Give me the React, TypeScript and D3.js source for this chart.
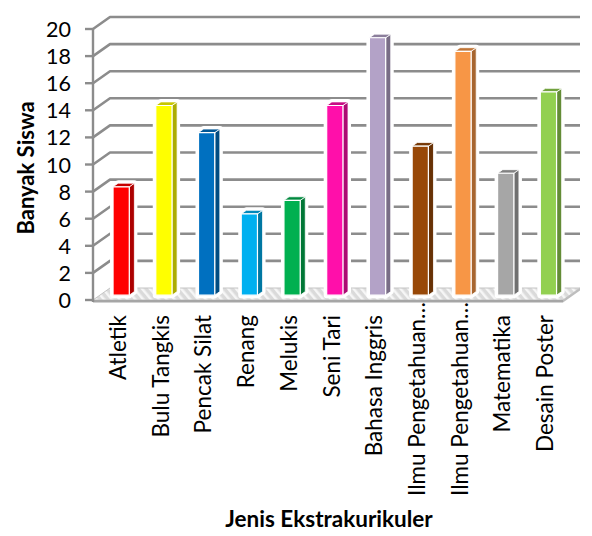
import React from "react";
import * as d3 from "d3";

const categories = [
  "Atletik",
  "Bulu Tangkis",
  "Pencak Silat",
  "Renang",
  "Melukis",
  "Seni Tari",
  "Bahasa Inggris",
  "Ilmu Pengetahuan…",
  "Ilmu Pengetahuan…",
  "Matematika",
  "Desain Poster",
];
const values = [8, 14, 12, 6, 7, 14, 19, 11, 18, 9, 15];
const colors = [
  "#FF0000",
  "#FFFF00",
  "#0070C0",
  "#00B0F0",
  "#00B050",
  "#FF0FAA",
  "#B3A2C7",
  "#984807",
  "#F79646",
  "#A6A6A6",
  "#92D050",
];
const yTicks = [0, 2, 4, 6, 8, 10, 12, 14, 16, 18, 20];
const yTitle = "Banyak Siswa";
const xTitle = "Jenis Ekstrakurikuler";

const W = 592;
const H = 536;
const X0 = 93;
const X1 = 563;
const DX = 17;
const DY = -12;
const T1 = 0.4;
const T2 = 0.7;
const FONT = "Lato, 'Open Sans', sans-serif";

export default function App() {
  const x = d3
    .scaleBand<number>()
    .domain(d3.range(categories.length))
    .range([X0, X1])
    .paddingInner(0.62)
    .paddingOuter(0.31);
  const y = d3.scaleLinear().domain([0, 20]).range([300, 29]);
  const P = (xf: number, v: number, t: number): [number, number] => [xf + DX * t, y(v) + DY * t];
  const pts = (arr: [number, number][]) => arr.map((p) => p.join(",")).join(" ");
  const bw = x.bandwidth();

  return (
    <svg
      width={W}
      height={H}
      style={{ position: "fixed", left: 0, top: 0, background: "#fff" }}
      fontFamily={FONT}
    >
      <defs>
        <pattern id="hatch" width="6" height="6" patternUnits="userSpaceOnUse" patternTransform="rotate(-40)">
          <rect width="6" height="6" fill="#dadada" />
          <rect width="2.5" height="6" fill="#f6f6f6" />
        </pattern>
      </defs>
      {/* grid lines: side wall + back wall */}
      {yTicks.filter((v) => v > 0).map((v) => {
        const a = P(X0, v, 0);
        const b = P(X0, v, 1);
        const c = P(X1, v, 1);
        return (
          <polyline
            key={v}
            points={pts([a, b, c])}
            fill="none"
            stroke="#8c8c8c"
            strokeWidth={2.6}
            strokeLinejoin="round"
          />
        );
      })}
      {/* floor */}
      <polygon points={pts([P(X0, 0, 0), P(X1, 0, 0), P(X1, 0, 1), P(X0, 0, 1)])} fill="url(#hatch)" stroke="#c4c4c4" strokeWidth={1} />
      <polygon
        points={pts([P(X0, 0, 0), P(X1, 0, 0), [P(X1, 0, 0)[0], P(X1, 0, 0)[1] + 2.5], [X0, P(X0, 0, 0)[1] + 2.5]])}
        fill="#a6a6a6"
      />
      <polygon
        points={pts([P(X1, 0, 0), P(X1, 0, 1), [P(X1, 0, 1)[0], P(X1, 0, 1)[1] + 2.5], [P(X1, 0, 0)[0], P(X1, 0, 0)[1] + 2.5]])}
        fill="#bdbdbd"
      />
      {/* front axis */}
      <line x1={X0} x2={X0} y1={y(0) + 2} y2={y(20)} stroke="#8c8c8c" strokeWidth={2.4} />
      {yTicks.map((v) => (
        <g key={"t" + v}>
          <line x1={X0 - 8} x2={X0} y1={y(v)} y2={y(v)} stroke="#8c8c8c" strokeWidth={2.4} />
          <text x={71} y={y(v)} textAnchor="end" dominantBaseline="central" fontSize={21.5} fill="#000">
            {v}
          </text>
        </g>
      ))}
      {/* bars */}
      {values.map((v, i) => {
        const xl = x(i)!;
        const xr = xl + bw;
        const fbl = P(xl, 0, T1);
        const ftl = P(xl, v, T1);
        const ftr = P(xr, v, T1);
        const fbr = P(xr, 0, T1);
        const btl = P(xl, v, T2);
        const btr = P(xr, v, T2);
        const bbr = P(xr, 0, T2);
        const base = d3.color(colors[i])!;
        const top = base.darker(0.7).formatHex();
        const side = base.darker(1.1).formatHex();
        return (
          <g key={"b" + i}>
            <polygon points={pts([fbl, ftl, btl, btr, bbr, fbr])} fill="#fff" stroke="#fff" strokeWidth={6} strokeLinejoin="round" />
            <polygon points={pts([fbr, ftr, btr, bbr])} fill={side} stroke="#fff" strokeWidth={0.8} />
            <polygon points={pts([ftl, ftr, btr, btl])} fill={top} stroke="#fff" strokeWidth={0.8} />
            <polygon points={pts([fbl, ftl, ftr, fbr])} fill={colors[i]} stroke="#fff" strokeWidth={1.2} />
          </g>
        );
      })}
      {/* x labels */}
      {categories.map((c, i) => {
        const cx = x(i)! + bw / 2 + 3;
        const top = c.endsWith("…") ? 302 : 315;
        return (
          <text
            key={"l" + i}
            transform={`translate(${cx},${top}) rotate(-90)`}
            textAnchor="end"
            dominantBaseline="central"
            fontSize={22.5}
            fill="#000"
          >
            {c}
          </text>
        );
      })}
      <text
        transform={`translate(25,168) rotate(-90)`}
        textAnchor="middle"
        dominantBaseline="central"
        fontSize={22}
        fontWeight="bold"
        fill="#000"
      >
        {yTitle}
      </text>
      <text x={329} y={527} textAnchor="middle" fontSize={22.5} fontWeight="bold" fill="#000">
        {xTitle}
      </text>
    </svg>
  );
}
